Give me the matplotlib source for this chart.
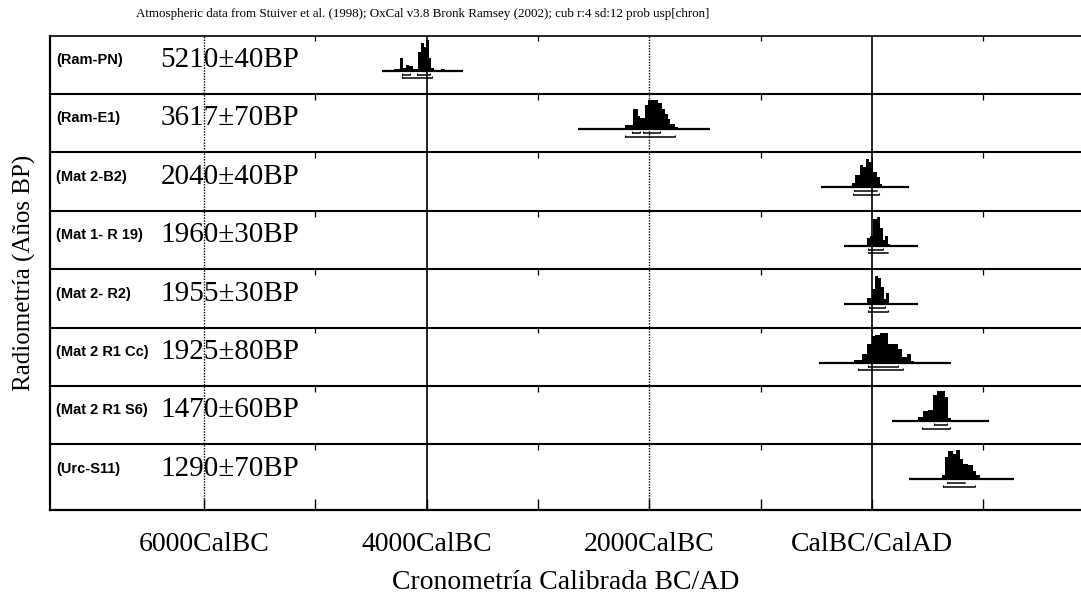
import numpy as np
import matplotlib
matplotlib.use("Agg")
import matplotlib.pyplot as plt

# <----------------------------- datos ----------------------------------->
muestras = ["(Ram-PN)", "(Ram-E1)", "(Mat 2-B2)", "(Mat 1- R 19)", "(Mat 2- R2)",
            "(Mat 2 R1 Cc)", "(Mat 2 R1 S6)", "(Urc-S11)"]
fechas_bp = ["5210±40BP", "3617±70BP", "2040±40BP", "1960±30BP", "1955±30BP",
             "1925±80BP", "1470±60BP", "1290±70BP"]

# bordes de cada escalon de la distribucion calibrada (años, BC negativo)
bordes = [
    [-4298, -4244, -4217, -4190, -4163, -4127, -4082, -4055, -4027, -4009, -3982, -3964, -3937, -3874, -3838],
    [-2219, -2147, -2103, -2085, -2040, -2013, -1923, -1887, -1860, -1833, -1815, -1770, -1743],
    [-180, -153, -108, -81, -54, -27, 0, 9, 45, 72, 90],
    [-45, -18, 9, 45, 72, 99, 117, 144, 162],
    [-45, 0, 27, 54, 81, 108, 126, 153],
    [-162, -90, -45, 0, 27, 72, 144, 189, 234, 270, 314, 350, 377],
    [413, 458, 503, 548, 584, 656, 683, 710],
    [629, 656, 683, 728, 755, 791, 818, 863, 907, 934, 970, 997],
]
# probabilidad relativa de cada escalon
probs = [
    [0.02, 0.22, 0.05, 0.10, 0.07, 0.03, 0.31, 0.48, 0.41, 0.53, 0.21, 0.05, 0.0, 0.02],
    [0.07, 0.34, 0.22, 0.19, 0.41, 0.50, 0.45, 0.34, 0.26, 0.17, 0.09, 0.03],
    [0.07, 0.21, 0.39, 0.34, 0.48, 0.43, 0.51, 0.26, 0.17, 0.05],
    [0.14, 0.17, 0.46, 0.50, 0.31, 0.09, 0.17, 0.03],
    [0.10, 0.26, 0.48, 0.45, 0.29, 0.09, 0.19],
    [0.05, 0.14, 0.31, 0.45, 0.48, 0.50, 0.31, 0.31, 0.24, 0.10, 0.14, 0.02],
    [0.07, 0.17, 0.19, 0.45, 0.51, 0.41, 0.05],
    [0.07, 0.38, 0.48, 0.43, 0.51, 0.34, 0.27, 0.24, 0.15, 0.07, 0.03],
]
# extension de la linea base de cada muestra
linea_ini = [-4403, -2642, -458, -252, -252, -476, 180, 332]
linea_fin = [-3675, -1456, 332, 413, 413, 710, 1051, 1276]
# rangos 1 sigma y 2 sigma
rango_1s = [[(-4223, -4151), (-4088, -3971)], [(-2156, -2085), (-2058, -1905)], [(-162, 45)],
            [(-36, 99)], [(-27, 117)], [(-36, 234)], [(557, 674)], [(674, 836)]]
rango_2s = [[(-4223, -3953)], [(-2219, -1770)], [(-171, 63)], [(-36, 144)], [(-36, 144)],
            [(-126, 279)], [(449, 701)], [(638, 925)]]

ticks_mayores = [-6000, -4000, -2000, 0]
ticks_etiquetas = ["6000CalBC", "4000CalBC", "2000CalBC", "CalBC/CalAD"]
ticks_menores = [-5000, -3000, -1000, 1000]

# <----------------------------- grafica ---------------------------------->
serif = "Liberation Serif"
fig = plt.figure(figsize=(10.81, 6.02), dpi=100)
ax = fig.add_axes([50 / 1081, 1 - 510 / 602, 1 - 50 / 1081, (510 - 35.5) / 602])
ax.set_xlim(-7385, 1878)
ax.set_ylim(8.125, 0)

n = len(muestras)
base = 0.6
for i in range(n):
    b = i + base
    x = np.array(bordes[i])
    h = np.array(probs[i] + [0.0])
    ax.fill_between(x, b, b - h, step="post", color="black", lw=0)
    ax.hlines(b, linea_ini[i], linea_fin[i], color="black", lw=1.6)
    for lo, hi in rango_1s[i]:
        ax.hlines(b + 0.07, lo, hi, color="black", lw=1.1)
        ax.vlines([lo, hi], b + 0.04, b + 0.07, color="black", lw=0.8)
    for lo, hi in rango_2s[i]:
        ax.hlines(b + 0.13, lo, hi, color="black", lw=1.1)
        ax.vlines([lo, hi], b + 0.10, b + 0.13, color="black", lw=0.8)
    ax.text(0.006, (i + 0.42), muestras[i], transform=ax.get_yaxis_transform(),
            fontfamily="Liberation Sans", fontweight="bold", fontsize=10.5, va="center")
    ax.text(0.107, (i + 0.42), fechas_bp[i], transform=ax.get_yaxis_transform(),
            fontfamily=serif, fontsize=21, va="center")

# lineas de filas
for i in range(1, n):
    ax.axhline(i, color="black", lw=1.5)
    ax.vlines(ticks_menores, i, i + 0.1, color="black", lw=0.9)
ax.vlines(ticks_menores, 0, 0.1, color="black", lw=0.9)

# lineas verticales
ax.axvline(-6000, color="black", lw=1, ls=(0, (1, 1)))
ax.axvline(-2000, color="black", lw=1, ls=(0, (1, 1)))
ax.axvline(-4000, color="black", lw=1.2)
ax.axvline(0, color="black", lw=1.2)

ax.set_xticks(ticks_mayores)
ax.set_xticklabels(ticks_etiquetas, fontfamily=serif, fontsize=20)
ax.set_xticks(ticks_menores, minor=True)
ax.tick_params(axis="x", which="both", direction="in", length=8, width=1, pad=16)
ax.set_yticks([])
for s in ["left", "bottom"]:
    ax.spines[s].set_linewidth(1.6)
ax.spines["top"].set_linewidth(1.2)
ax.spines["right"].set_visible(False)

ax.set_xlabel("Cronometría Calibrada BC/AD", fontfamily=serif, fontsize=20, labelpad=9)
ax.set_ylabel("Radiometría (Años BP)", fontfamily=serif, fontsize=18, labelpad=10)

fig.text(136 / 1081, 1 - 14 / 602,
         "Atmospheric data from Stuiver et al. (1998); OxCal v3.8 Bronk Ramsey (2002); cub r:4 sd:12 prob usp[chron]",
         fontfamily=serif, fontsize=9.4, va="center", ha="left")

fig.savefig("out.png", dpi=100)
